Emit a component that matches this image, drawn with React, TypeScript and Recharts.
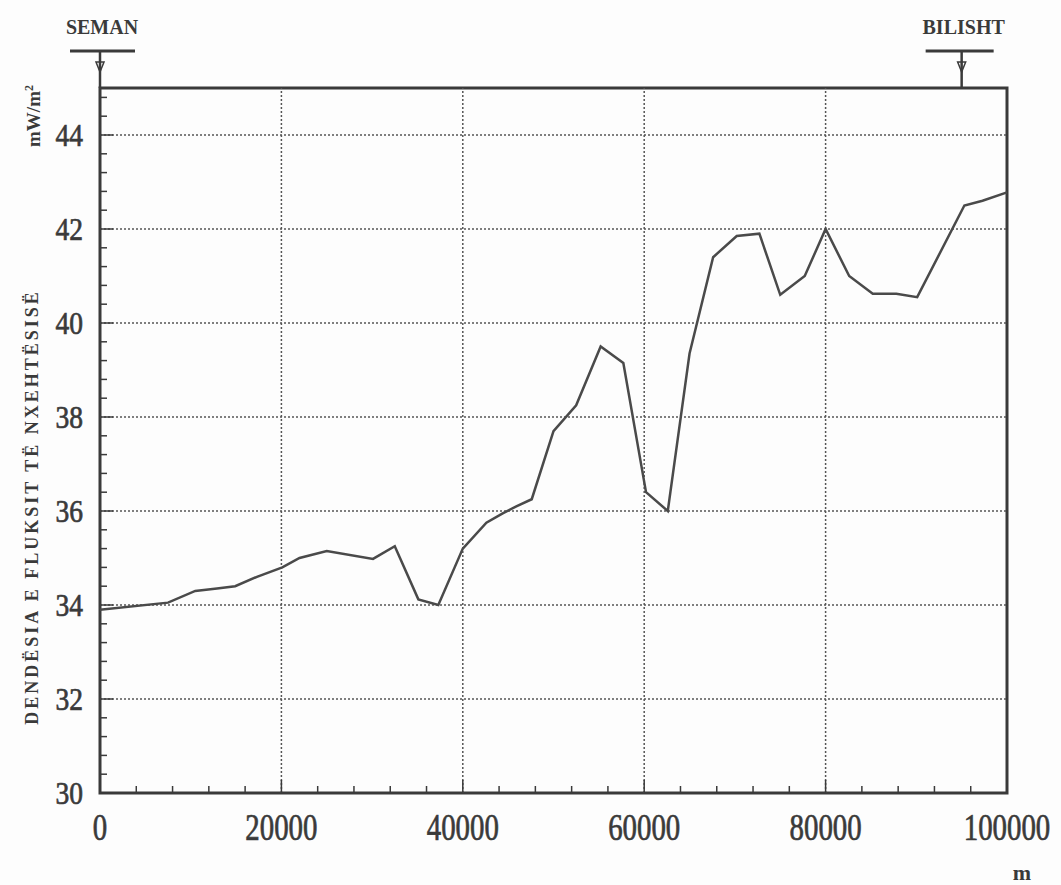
import React from 'react';
import {
  LineChart,
  Line,
  XAxis,
  YAxis,
  ReferenceLine,
  ReferenceArea,
  ReferenceDot,
} from 'recharts';

// distance along profile (m)
const distance = [
  0, 7500, 10500, 12900, 14900, 17300, 20100, 22000, 25000, 30100, 32500, 35100, 37300,
  40000, 42600, 44400, 45900, 47600, 50000, 52500, 55200, 57700, 60200, 62600, 65000,
  67600, 70200, 72700, 75000, 77700, 80000, 82600, 85200, 87800, 90100, 95300, 97300, 100000,
];
// heat flow density (mW/m2)
const heatFlow = [
  33.9, 34.05, 34.3, 34.35, 34.4, 34.6, 34.8, 35.0, 35.15, 34.98, 35.25, 34.12, 34.0,
  35.2, 35.75, 35.95, 36.1, 36.25, 37.7, 38.25, 39.5, 39.15, 36.4, 36.0, 39.35,
  41.4, 41.85, 41.9, 40.6, 41.0, 42.0, 41.0, 40.62, 40.62, 40.55, 42.5, 42.6, 42.78,
];

const xMajorTicks = [0, 20000, 40000, 60000, 80000, 100000];
const yMajorTicks = [30, 32, 34, 36, 38, 40, 42, 44];
const xGrid = [20000, 40000, 60000, 80000];
const yGrid = [32, 34, 36, 38, 40, 42, 44];

const xMinorStep = 4000;
const yMinorStep = 0.4;
const xTicks = Array.from({ length: 26 }, (_, i) => i * xMinorStep);
const yTicks = Array.from({ length: 38 }, (_, i) => Math.round((30 + i * yMinorStep) * 10) / 10);

const stations = [
  { name: 'SEMAN', x: 0, left: 30, right: 35 },
  { name: 'BILISHT', x: 95000, left: 36, right: 32 },
];

const data = distance.map((d, i) => ({ d, q: heatFlow[i] }));

const INK = '#3a3a3a';
const FONT = '"Liberation Serif", "DejaVu Serif", serif';

const XTick = (props: any) => {
  const { x, y, payload } = props;
  const major = xMajorTicks.includes(payload.value);
  return (
    <g>
      <line x1={x} y1={y} x2={x} y2={y - (major ? 13 : 7)} stroke={INK} strokeWidth={1.5} />
      {major && (
        <text
          transform={`translate(${x},${y + 47}) scale(0.78,1)`}
          textAnchor="middle"
          fontFamily={FONT}
          fontSize={37}
          fill={INK}
          stroke={INK}
          strokeWidth={0.7}
        >
          {payload.value}
        </text>
      )}
    </g>
  );
};

const YTick = (props: any) => {
  const { x, y, payload } = props;
  const major = yMajorTicks.includes(payload.value);
  return (
    <g>
      <line x1={x} y1={y} x2={x + (major ? 13 : 7)} y2={y} stroke={INK} strokeWidth={1.5} />
      {major && (
        <text
          transform={`translate(${x - 17},${y + 11}) scale(0.86,1)`}
          textAnchor="end"
          fontFamily={FONT}
          fontSize={32}
          fill={INK}
          stroke={INK}
          strokeWidth={0.7}
        >
          {payload.value}
        </text>
      )}
    </g>
  );
};

const StationMark = (props: any) => {
  const { cx, cy, name } = props;
  const s = stations.find((st) => st.name === name) ?? stations[0];
  return (
    <g>
      <text
        x={cx + 2}
        y={cy - 54}
        textAnchor="middle"
        fontFamily={FONT}
        fontWeight="bold"
        fontSize={20}
        fill={INK}
      >
        {s.name}
      </text>
      <line x1={cx - s.left} y1={cy - 37} x2={cx + s.right} y2={cy - 37} stroke={INK} strokeWidth={3} />
      <line x1={cx} y1={cy - 37} x2={cx} y2={cy} stroke={INK} strokeWidth={2.5} />
      <path d={`M${cx - 4},${cy - 26} L${cx + 4},${cy - 26} L${cx},${cy - 16} Z`} fill="none" stroke={INK} strokeWidth={1.5} />
    </g>
  );
};

export default function App() {
  return (
    <div style={{ position: 'absolute', left: 0, top: 0, background: '#fdfdfd' }}>
      <LineChart
        width={1061}
        height={885}
        data={data}
        margin={{ top: 88, right: 54, bottom: 62, left: 40 }}
      >
        <XAxis
          dataKey="d"
          type="number"
          domain={[0, 100000]}
          ticks={xTicks}
          interval={0}
          height={30}
          tickSize={0}
          tickMargin={0}
          axisLine={false}
          tickLine={false}
          tick={<XTick />}
        />
        <YAxis
          type="number"
          domain={[30, 45]}
          ticks={yTicks}
          interval={0}
          width={60}
          tickSize={0}
          tickMargin={0}
          axisLine={false}
          tickLine={false}
          tick={<YTick />}
        />
        {xGrid.map((v) => (
          <ReferenceLine key={`gx${v}`} x={v} stroke="#555" strokeWidth={1.5} strokeDasharray="2 2" />
        ))}
        {yGrid.map((v) => (
          <ReferenceLine key={`gy${v}`} y={v} stroke="#555" strokeWidth={1.5} strokeDasharray="2 2" />
        ))}
        <ReferenceArea x1={0} x2={100000} y1={30} y2={45} fill="none" stroke={INK} strokeWidth={3} />
        <Line
          dataKey="q"
          stroke="#4a4a4a"
          strokeWidth={2.5}
          dot={false}
          isAnimationActive={false}
        />
        {stations.map((s) => (
          <ReferenceDot
            key={s.name}
            x={s.x}
            y={45}
            r={0}
            ifOverflow="visible"
            shape={(p: any) => <StationMark {...p} name={s.name} />}
          />
        ))}
        <text
          transform="translate(38,507) rotate(-90)"
          textAnchor="middle"
          fontFamily={FONT}
          fontWeight="bold"
          fontSize={18}
          letterSpacing={3}
          fill={INK}
        >
          DENDËSIA E FLUKSIT TË NXEHTËSISË
        </text>
        <text
          transform="translate(40,116) rotate(-90)"
          textAnchor="middle"
          fontFamily={FONT}
          fontWeight="bold"
          fontSize={19}
          fill={INK}
        >
          mW/m<tspan dy={-7} fontSize={12}>2</tspan>
        </text>
        <text x={1022} y={880} textAnchor="middle" fontFamily={FONT} fontWeight="bold" fontSize={22} fill={INK}>
          m
        </text>
      </LineChart>
    </div>
  );
}
